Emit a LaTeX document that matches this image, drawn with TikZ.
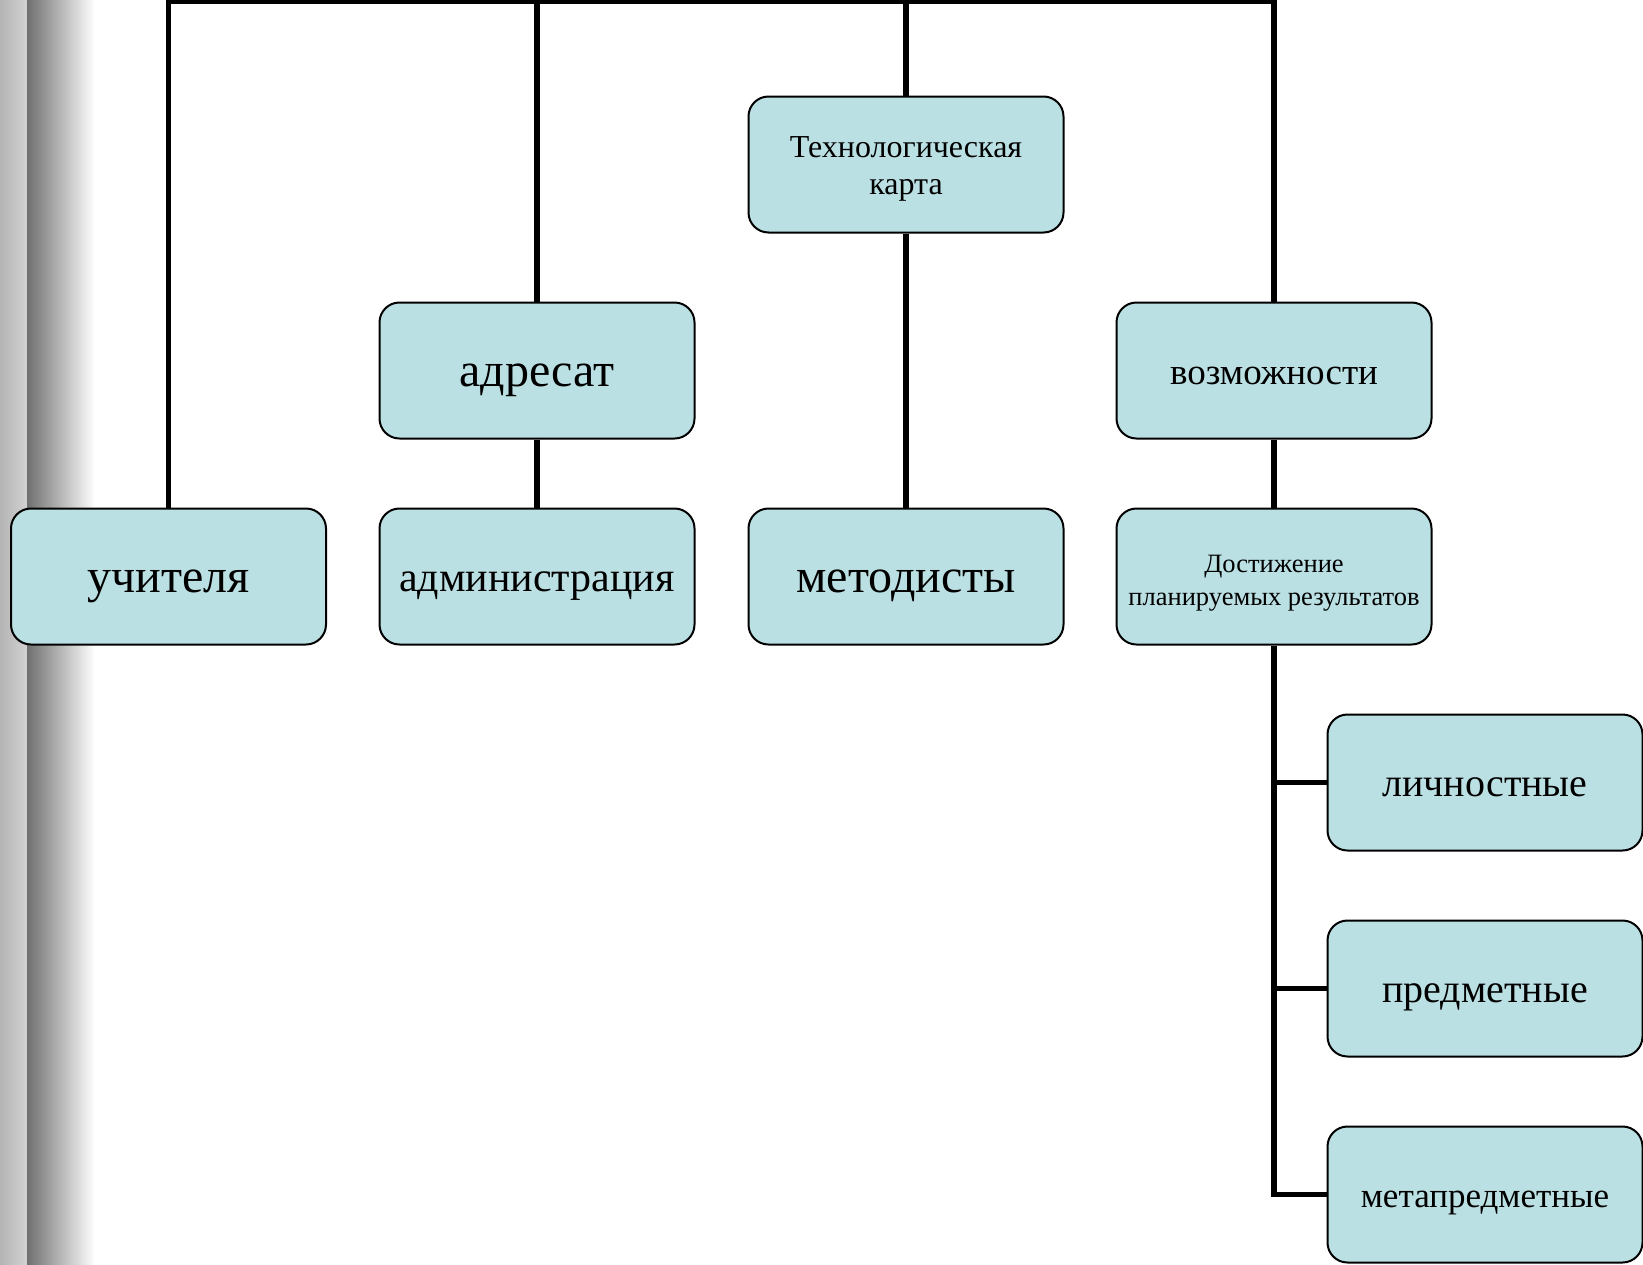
\documentclass[tikz,border=0pt]{standalone}
\usepackage{fontspec}
\setmainfont{Liberation Serif}
\definecolor{boxfill}{HTML}{BBE0E3}
\definecolor{barlight}{HTML}{B4B4B4}
\definecolor{barlight2}{HTML}{D2D2D2}
\definecolor{bardark}{HTML}{707070}
\newcommand{\topst}[1]{\rule{0pt}{#1em}}
\newcommand{\botst}[1]{\rule[-#1em]{0pt}{0pt}}
\newcommand{\onest}{\rule[-0.23em]{0pt}{\dimexpr0.92em+10.5pt\relax}}
\tikzset{
  box/.style={draw=black, line width=2pt, fill=boxfill, rounded corners=20pt,
    minimum width=315pt, minimum height=136pt, inner sep=0pt, align=center, text=black},
  conn/.style={draw=black, line width=5.5pt, line join=miter},
}
\begin{document}
\begin{tikzpicture}[x=1pt, y=-1pt]
\useasboundingbox (0,0) rectangle (1643,1264);
\fill[white] (0,0) rectangle (1643,1264);
\shade[left color=barlight, right color=barlight2] (0,0) rectangle (27,1264);
\shade[left color=bardark, right color=white] (27,0) rectangle (95,1264);

% row 1
\node[box, font=\fontsize{32}{37.6}\selectfont] (tk) at (906,164.5)
  {\topst{0.95}Технологическая\\ карта\botst{0.23}};
% row 2
\node[box, font=\fontsize{48}{52}\selectfont] (adr) at (537,370.5) {\onest адресат};
\node[box, font=\fontsize{37}{42}\selectfont] (voz) at (1274,370.5) {\onest возможности};
% row 3
\node[box, font=\fontsize{48}{52}\selectfont] (uch) at (168.5,576.5) {\onest учителя};
\node[box, font=\fontsize{42}{46}\selectfont] (adm) at (537,576.5) {\onest администрация};
\node[box, font=\fontsize{48}{52}\selectfont] (met) at (906,576.5) {\onest методисты};
\node[box, font=\fontsize{26.5}{32.3}\selectfont] (dost) at (1274,576.5)
  {\topst{1.17}Достижение\\ планируемых результатов\botst{0.23}};
% right column
\node[box, font=\fontsize{40}{44}\selectfont] (lich) at (1485,782.5) {\onest личностные};
\node[box, font=\fontsize{40}{44}\selectfont] (pred) at (1485,988.5) {\onest предметные};
\node[box, font=\fontsize{35}{40}\selectfont] (meta) at (1485,1194.5) {\onest метапредметные};

% connectors
\coordinate (tl) at (168.5,1.5);
\coordinate (tr) at (1274,1.5);
\draw[conn] (uch.north) -- (tl) -- (tr) -- (voz.north);
\draw[conn] (adr.north) -- (adr.north |- tl);
\draw[conn] (tk.north) -- (tk.north |- tl);
\draw[conn] (adr.south) -- (adm.north);
\draw[conn] (tk.south) -- (met.north);
\draw[conn] (voz.south) -- (dost.north);
\draw[conn] (dost.south) |- (meta.west);
\draw[conn] (dost.south |- lich.west) -- (lich.west);
\draw[conn] (dost.south |- pred.west) -- (pred.west);
\end{tikzpicture}
\end{document}
